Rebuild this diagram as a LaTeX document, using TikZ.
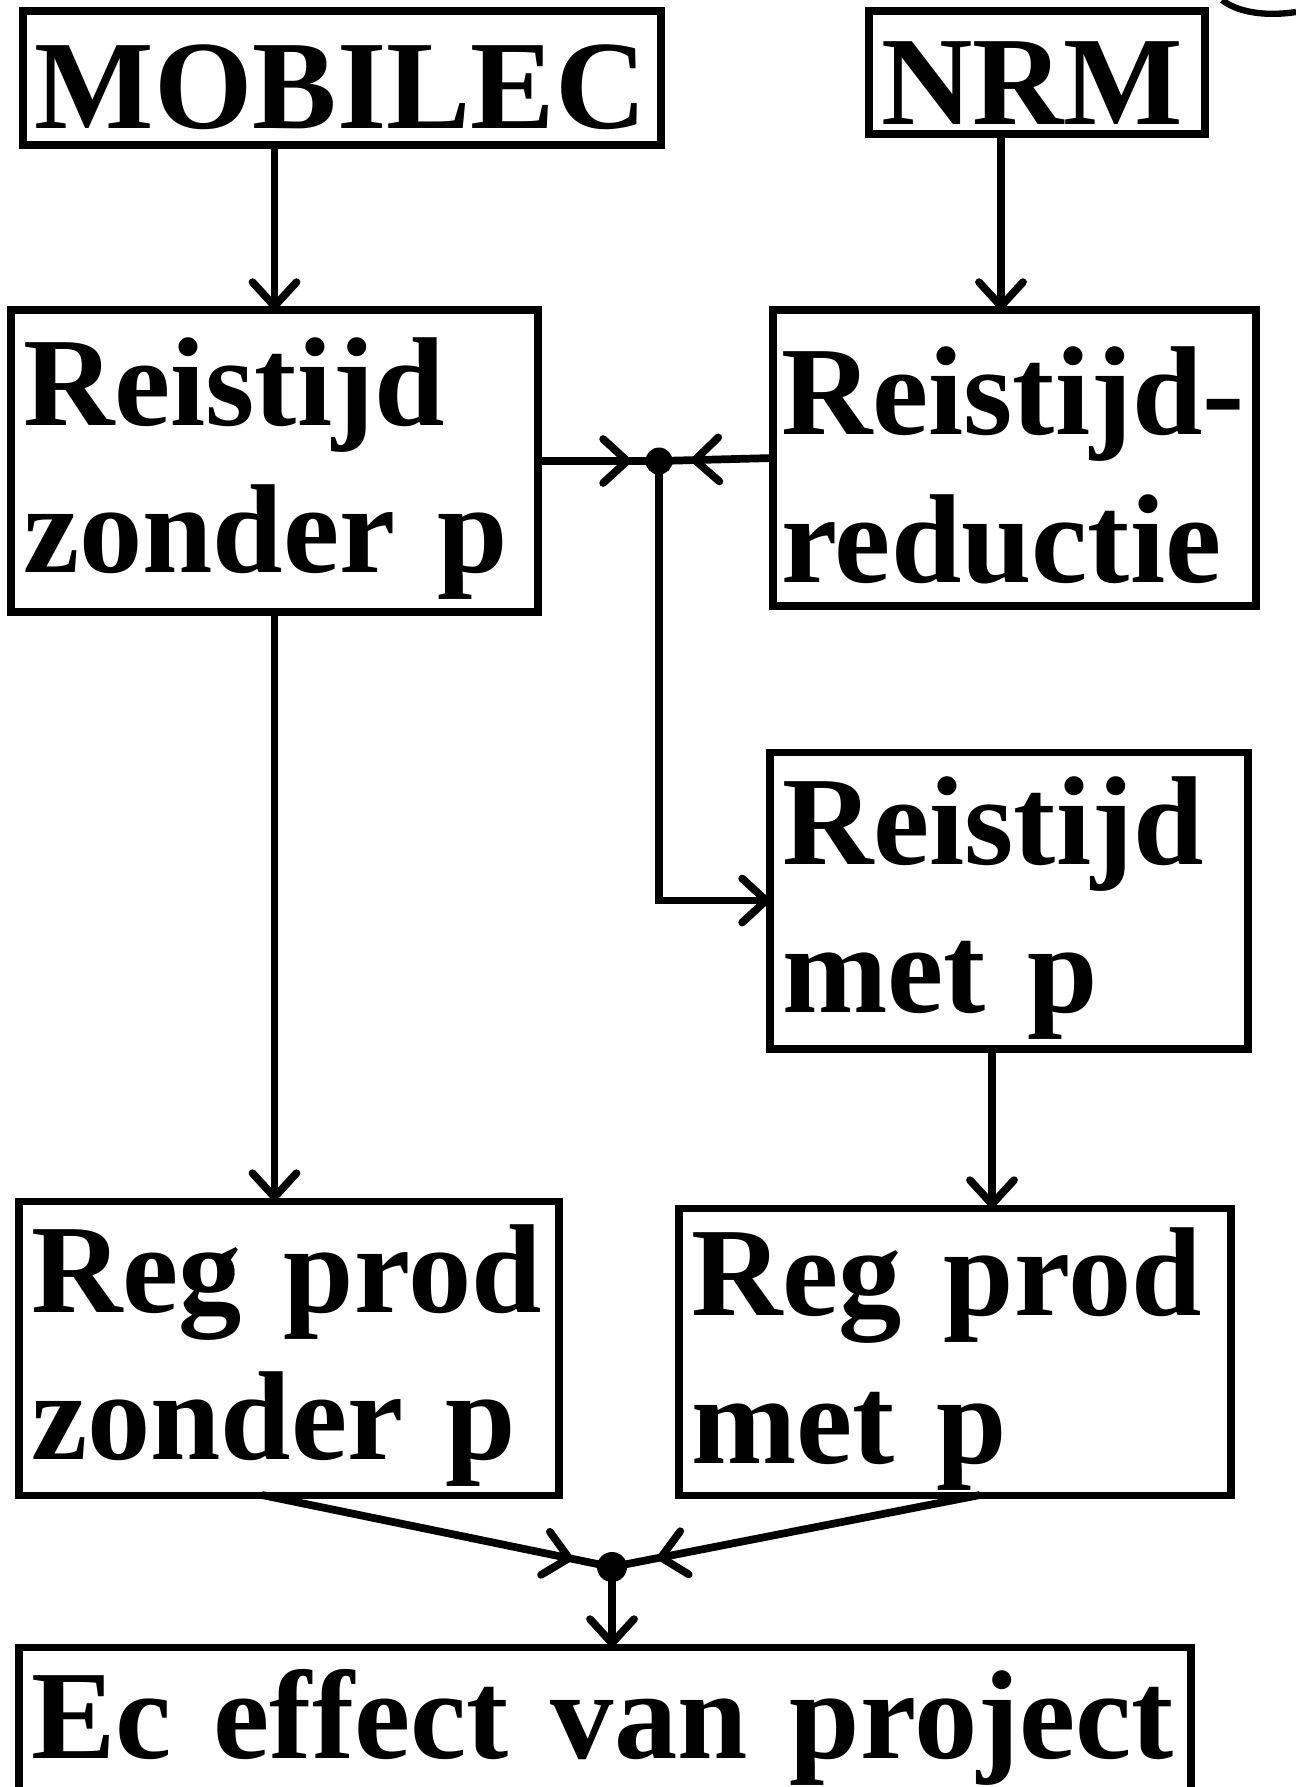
\documentclass[tikz,border=0pt]{standalone}
\usepackage{fontspec}
\setmainfont{Liberation Serif}
\usetikzlibrary{arrows.meta,calc,decorations.markings}
\begin{document}
\begin{tikzpicture}[x=0.1mm,y=-0.1mm,
		blok/.style={draw,line width=2pt,anchor=north west,inner xsep=1.2mm,inner ysep=0pt,
			outer sep=0pt,align=left,font=\fontsize{36pt}{42pt}\selectfont\bfseries,
			execute at begin node={\rule{0pt}{10.3mm}}},
		pijl/.style={line width=2.2pt,-{Straight Barb[length=2.4mm,width=4.4mm,round]}},
		lijn/.style={line width=2.2pt},
		naar/.style={lijn,postaction={decorate},decoration={markings,
			mark=at position #1 with {\arrow{Straight Barb[length=2.4mm,width=4.4mm,round]}}}},
		punt/.style={circle,fill,inner sep=0pt,minimum size=2.7mm}]
	\useasboundingbox (0,0) rectangle (1296,1787);
	\node[blok,text width=61.4mm,minimum height=13.4mm] (mob) at (23,11) {MOBILEC};
	\node[blok,text width=31.2mm,minimum height=12.3mm] (nrm) at (869,11) {NRM};
	\node[blok,text width=50.3mm,minimum height=30.2mm] (rzp) at (11,310) {Reistijd\\zonder p};
	\node[blok,inner xsep=0.8mm,text width=46.7mm,minimum height=29.6mm] (rrd) at (773,310) {Reistijd-\\reductie};
	\node[blok,text width=45.4mm,minimum height=29.7mm] (rmp) at (770,752) {Reistijd\\met p};
	\node[blok,text width=51.6mm,minimum height=29.4mm] (gzp) at (19,1201) {Reg prod\\zonder p};
	\node[blok,text width=52.8mm,minimum height=28.7mm] (gmp) at (679,1208) {Reg prod\\met p};
	\node[blok,text width=114.8mm,minimum height=14.7mm] (ec) at (19,1647) {Ec effect van project};
	\node[punt] (jtop) at (659,461) {};
	\node[punt,minimum size=3mm] (jbot) at (612,1567) {};
	\coordinate (nx) at (1001,0);
	\coordinate (mx) at (992,0);
	\draw[pijl] (mob.south -| rzp.north) -- (rzp.north);
	\draw[pijl] (nrm.south -| nx) -- (rrd.north -| nx);
	\draw[naar=-2.8mm] (rzp.east) -- (jtop.center);
	\draw[naar=-3.2mm] (rrd.west) -- (jtop.center);
	\draw[pijl] (jtop.center) |- (rmp.west);
	\draw[pijl] (rzp.south) -- (rzp.south |- gzp.north);
	\draw[pijl] (rmp.south -| mx) -- (gmp.north -| mx);
	\draw[naar=-4mm] ($(gzp.south west)!0.45!(gzp.south east)$) -- (jbot.center);
	\draw[naar=-4.6mm] ($(gmp.south west)!0.545!(gmp.south east)$) -- (jbot.center);
	\draw[pijl] (jbot.center) -- (jbot |- ec.north);
	% rand van een cirkel rechtsboven
	\draw[line width=1.8pt] (1222,0) .. controls (1240,14) and (1270,16) .. (1296,12);
\end{tikzpicture}
\end{document}
